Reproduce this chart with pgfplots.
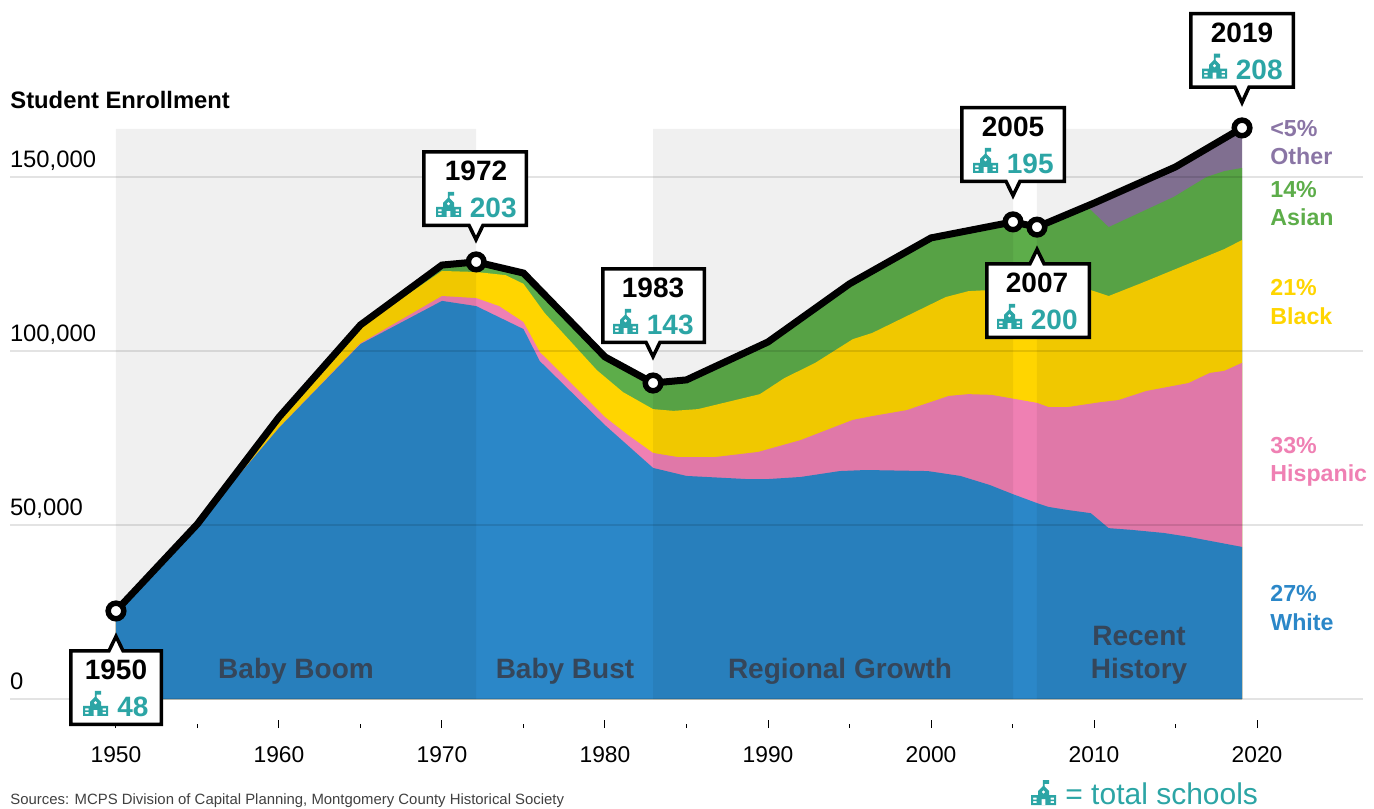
\documentclass[border=0pt]{standalone}
\usepackage{fontspec}
\setmainfont{Liberation Sans}
\usepackage{pgfplots}
\pgfplotsset{compat=1.18}
\definecolor{cWhite}{HTML}{2B87C8}
\definecolor{cHisp}{HTML}{EF80B3}
\definecolor{cBlack}{HTML}{FFD500}
\definecolor{cAsian}{HTML}{5DAD4A}
\definecolor{cOther}{HTML}{887699}
\definecolor{cOtherText}{HTML}{8A75A5}
\definecolor{cTeal}{HTML}{2CA5A5}
\definecolor{cEra}{HTML}{35465A}
\tikzset{
  pics/school/.style={code={
    \fill[cTeal,even odd rule]
      (0,15) -- (7,15) -- (7,11) -- (12.5,5.5) -- (18,11) -- (18,15) -- (25,15) -- (25,25) -- (0,25) -- cycle
      (12.5,12) circle (1.9)
      (10.7,25) rectangle (14.3,19)
      (2,17.5) rectangle (5.5,19.5) (2,21) rectangle (5.5,23)
      (19.5,17.5) rectangle (23,19.5) (19.5,21) rectangle (23,23);
    \fill[cTeal] (11.8,1) rectangle (13.6,7) (11.8,0) rectangle (18,3.8);
  }}
}
% box on the picture, pixel coordinates of the reference
\newcommand\boxtext[5]{% tipx, top, year, icon offset, value + text offset
  \node[anchor=base,inner sep=0pt,font=\fontsize{14}{16}\bfseries\selectfont] at (#1,#2+29) {#3};
  \pic at (#1+#4,#2+40) {school};
}
\newcommand\valtext[4]{% tipx, top, offset, value
  \node[anchor=base west,inner sep=0pt,text=cTeal,font=\fontsize{14}{16}\bfseries\selectfont] at (#1+#3,#2+65.3) {#4};
}
\newcommand\calldown[5]{% L, R, T, tipx, tipy
  \draw[black,fill=white,line width=1.75pt,miter limit=10]
    (#1,#3) -- (#2,#3) -- (#2,#3+73.5) -- (#4+7,#3+73.5) -- (#4,#5) -- (#4-7,#3+73.5) -- (#1,#3+73.5) -- cycle;
}
\newcommand\callup[5]{%
  \draw[black,fill=white,line width=1.75pt,miter limit=10]
    (#1,#3) -- (#4-7,#3) -- (#4,#5) -- (#4+7,#3) -- (#2,#3) -- (#2,#3+73.5) -- (#1,#3+73.5) -- cycle;
}
\begin{document}
\begin{tikzpicture}
\useasboundingbox (0,0) rectangle (687pt,-404pt);
\begin{axis}[
  at={(5pt,-364pt)}, anchor=south west, scale only axis,
  width=676.5pt, height=364pt,
  xmin=1943.5, xmax=2026.5, ymin=-8333, ymax=200862,
  clip=false, axis on top,
  axis line style={draw=none},
  xtick={1950,1960,1970,1980,1990,2000,2010,2020}, minor xtick={1955,1965,1975,1985,1995,2005,2015},
  xticklabels={1950,1960,1970,1980,1990,2000,2010,2020},
  ytick={0,50000,100000,150000}, yticklabels={0,{50,000},{100,000},{150,000}},
  xtick pos=bottom, ytick pos=left, tick align=inside,
  major tick length=4pt, minor tick length=2pt,
  xtick style={black,line width=.5pt}, ytick style={draw=none},
  ymajorgrids, grid style={black,opacity=.11,line width=.65pt},
  tick label style={inner sep=0pt,outer sep=0pt},
  xticklabel style={anchor=base,yshift=-17pt,font=\fontsize{11.4}{13}\selectfont},
  yticklabel style={anchor=base west,yshift=5pt,font=\fontsize{11.9}{13}\selectfont},
]
% top of the stack, the part left over is "Other"
\addplot[draw=none,fill=cOther] coordinates {
  (1950,0) (1950,25300) (1955,50300) (1960,81000) (1965,107500) (1970,124700) (1972.1,125600)
  (1975,122400) (1980,98300) (1982.95,90800) (1985,91700) (1990,102600) (1995,119300) (2000,132500)
  (2005.03,137100) (2006.5,135600) (2010,142500) (2015,152900) (2019.08,164100) (2019.08,0)} \closedcycle;
\addplot[draw=none,fill=cAsian] coordinates {
  (1950,0) (1950,25300) (1955,50300) (1960,81000) (1965,107500) (1970,124700) (1972.1,125600)
  (1975,122400) (1980,98300) (1982.95,90800) (1985,91700) (1990,102600) (1995,119300) (2000,132500)
  (2005.03,137100) (2006.5,135600) (2009.6,141400) (2010.9,135600) (2014.9,144300) (2016.9,150000)
  (2018,151700) (2019.08,152600) (2019.08,0)} \closedcycle;
\addplot[draw=none,fill=cBlack] coordinates {
  (1950,0) (1950,25300) (1955,50300) (1960,80100) (1965,106900) (1970,123000) (1972.1,122700)
  (1973.9,121800) (1975,119300) (1976.3,110900) (1979.5,94500) (1981.1,88200) (1982.95,83300)
  (1984.2,82800) (1985.7,83300) (1989.5,87600) (1991,92200) (1992.9,96600) (1995.2,103400)
  (1996.4,105200) (2000.9,115500) (2002.3,117200) (2003.5,117500) (2009.8,117500) (2010.9,115800)
  (2012.9,119500) (2018,129300) (2019.08,131900) (2019.08,0)} \closedcycle;
\addplot[draw=none,fill=cHisp] coordinates {
  (1950,0) (1950,25300) (1955,50300) (1960,77900) (1965,102200) (1970,115800) (1972.1,115200)
  (1973.5,112900) (1975,108300) (1976,99700) (1980,81000) (1981.4,75900) (1982.95,70700)
  (1984.5,69500) (1986.7,69500) (1989.4,71000) (1992,74400) (1995.2,80200) (1996.4,81300)
  (1998.5,83000) (2001.1,87100) (2002.3,87600) (2003.7,87400) (2006.5,85100) (2007.2,83900)
  (2008.4,83900) (2010.4,85300) (2011.5,85900) (2013.2,88500) (2015.8,90800) (2017.1,93700)
  (2018,94300) (2019.08,96600) (2019.08,0)} \closedcycle;
\addplot[draw=none,fill=cWhite] coordinates {
  (1950,0) (1950,25300) (1955,50300) (1960,77900) (1965,102000) (1970,114400) (1972.1,112900)
  (1975,106300) (1976,97100) (1980,78700) (1982.95,66400) (1985,64100) (1988.7,63200) (1990,63200)
  (1992,63800) (1994.4,65500) (1996,65800) (1999.8,65500) (2001.8,64100) (2003.6,61500)
  (2005,58900) (2006.5,56300) (2007.2,55200) (2008.4,54300) (2009.8,53400) (2010.9,49100)
  (2012.3,48600) (2014.3,47700) (2015.8,46600) (2019.08,43700) (2019.08,0)} \closedcycle;
% the three shaded eras
\addplot[draw=none,fill=black,fill opacity=.06] coordinates {(1950,0) (1950,163800) (1972.1,163800) (1972.1,0)} \closedcycle;
\addplot[draw=none,fill=black,fill opacity=.06] coordinates {(1982.95,0) (1982.95,163800) (2005.03,163800) (2005.03,0)} \closedcycle;
\addplot[draw=none,fill=black,fill opacity=.06] coordinates {(2006.5,0) (2006.5,163800) (2019.08,163800) (2019.08,0)} \closedcycle;
% total enrollment
\addplot[black,line width=3.5pt,line join=miter] coordinates {
  (1950,25300) (1955,50300) (1960,81000) (1965,107500) (1970,124700) (1972.1,125600)
  (1975,122400) (1980,98300) (1982.95,90800) (1985,91700) (1990,102600) (1995,119300) (2000,132500)
  (2005.03,137100) (2006.5,135600) (2010,142500) (2015,152900) (2019.08,164100)};
\addplot[only marks,mark=*,mark size=3.9pt,mark options={draw=black,fill=white,line width=2.75pt}] coordinates {
  (1950,25300) (1972.1,125600) (1982.95,90800) (2005.03,137100) (2006.5,135600) (2019.08,164100)};
\end{axis}
\begin{scope}[x=.5pt,y=-.5pt]
  \node[anchor=base west,inner sep=0pt,font=\fontsize{11.9}{14}\bfseries\selectfont] at (10,109) {Student Enrollment};
  % eras
  \begin{scope}[every node/.style={text=cEra,inner sep=0pt,anchor=base,font=\fontsize{14}{16}\bfseries\selectfont}]
    \node at (296,678) {Baby Boom};
    \node at (565,678) {Baby Bust};
    \node at (840,678) {Regional Growth};
    \node at (1139,645) {Recent};
    \node at (1139,678) {History};
  \end{scope}
  % callouts
  \callup{70.75}{161.25}{650.75}{116}{636.4}
  \boxtext{116}{650.75}{1950}{-33}{} \valtext{116}{650.75}{1}{48}
  \calldown{423.75}{526.25}{151.75}{476}{239.6}
  \boxtext{476}{151.75}{1972}{-40}{} \valtext{476}{151.75}{-6.5}{203}
  \calldown{602.75}{704.25}{268.75}{653}{356.6}
  \boxtext{653}{268.75}{1983}{-40}{} \valtext{653}{268.75}{-6.5}{143}
  \calldown{961.75}{1064.25}{107.75}{1013}{195.6}
  \boxtext{1013}{107.75}{2005}{-40}{} \valtext{1013}{107.75}{-6.5}{195}
  \callup{986.75}{1089.25}{263.75}{1037}{249.4}
  \boxtext{1037}{263.75}{2007}{-40}{} \valtext{1037}{263.75}{-6.5}{200}
  \calldown{1190.75}{1293.25}{13.75}{1242}{102.6}
  \boxtext{1242}{13.75}{2019}{-40}{} \valtext{1242}{13.75}{-6.5}{208}
  % labels right of the stack
  \begin{scope}[every node/.style={inner sep=0pt,anchor=base west,font=\fontsize{11.6}{14}\bfseries\selectfont}]
    \node[text=cOtherText] at (1270,136) {<5\%};
    \node[text=cOtherText] at (1270,164) {Other};
    \node[text=cAsian] at (1270,197) {14\%};
    \node[text=cAsian] at (1270,225) {Asian};
    \node[text=cBlack] at (1270,295) {21\%};
    \node[text=cBlack] at (1270,324) {Black};
    \node[text=cHisp] at (1270,453) {33\%};
    \node[text=cHisp] at (1270,481) {Hispanic};
    \node[text=cWhite] at (1270,601) {27\%};
    \node[text=cWhite] at (1270,630) {White};
  \end{scope}
  % footer
  \node[anchor=base west,inner sep=0pt,text=black!75,font=\fontsize{7.45}{8}\selectfont] at (10,804) {Sources: MCPS Division of Capital Planning, Montgomery County Historical Society};
  \pic at (1031,780) {school};
  \node[anchor=base west,inner sep=0pt,text=cTeal,font=\fontsize{15}{17}\selectfont] at (1065,804.5) {= total schools};
\end{scope}
\end{tikzpicture}
\end{document}
